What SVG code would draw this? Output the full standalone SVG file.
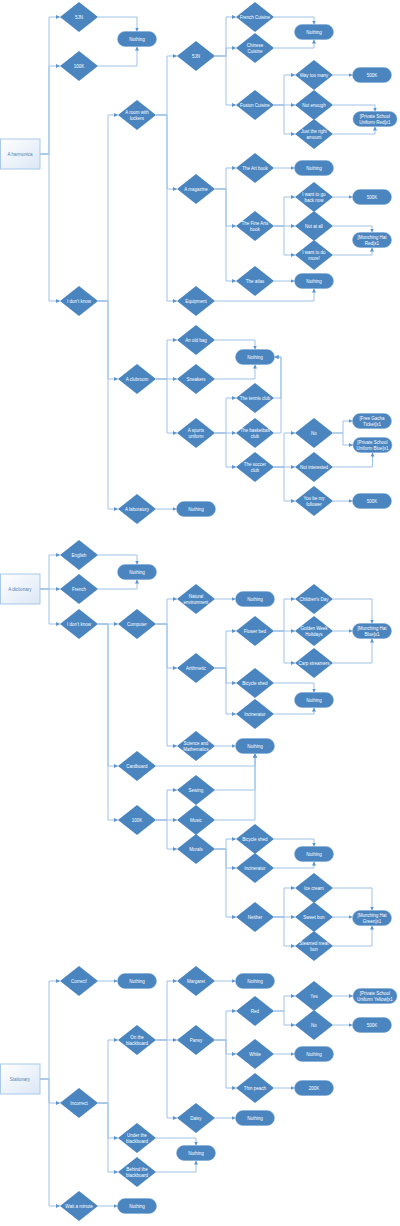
<svg xmlns="http://www.w3.org/2000/svg" width="400" height="1226" viewBox="0 0 400 1226">
<style>
.d{fill:#4a85bf}
.t{fill:#4a85bf;stroke:#7aa7d6;stroke-width:0.5}
.r{fill:url(#g);stroke:#a9c9ea;stroke-width:1}
text{font-family:"Liberation Sans",Arial,sans-serif;font-size:4.5px;fill:#fff;text-anchor:middle;dominant-baseline:central}
text.rt{fill:#4a7fb8}
.c path{fill:none;stroke:#9fc2e7;stroke-width:1;marker-end:url(#a)}
</style>
<defs>
<linearGradient id="g" x1="0" y1="0" x2="1" y2="1"><stop offset="0" stop-color="#ffffff"/><stop offset="1" stop-color="#dbe7f5"/></linearGradient>
<marker id="a" markerUnits="userSpaceOnUse" markerWidth="4" markerHeight="4" refX="4" refY="2" orient="auto"><path d="M0,0 L4,2 L0,4 z" fill="#5b95d0"/></marker>
</defs>
<g class="c" id="connectors">
<path d="M40 154 H49 V17 H60"/><path d="M40 154 H49 V66 H60"/><path d="M40 154 H49 V301 H60"/>
<path d="M98 17 H137 V31.5"/><path d="M98 66 H137 V46.5"/>
<path d="M98 301 H108 V115 H118"/><path d="M98 301 H108 V379 H118"/><path d="M98 301 H108 V509 H118"/>
<path d="M156 509 H176.5"/>
<path d="M156 115 H167 V56 H177"/><path d="M156 115 H167 V189 H177"/><path d="M156 115 H167 V301 H177"/>
<path d="M215 301 H314 V288.5"/>
<path d="M215 56 H226 V17 H236"/><path d="M215 56 H226 V48 H236"/><path d="M215 56 H226 V105 H236"/>
<path d="M274 17 H314 V24.5"/><path d="M274 48 H314 V39.5"/>
<path d="M274 105 H284 V75 H295"/><path d="M274 105 H295"/><path d="M274 105 H284 V134 H295"/>
<path d="M333 75 H352.5"/><path d="M333 105 H375 V111.5"/><path d="M333 134 H375 V126.5"/>
<path d="M215 189 H226 V168 H236"/><path d="M215 189 H226 V226 H236"/><path d="M215 189 H226 V281 H236"/>
<path d="M274 168 H294.5"/><path d="M274 281 H294.5"/>
<path d="M274 226 H284 V197 H295"/><path d="M274 226 H295"/><path d="M274 226 H284 V255 H295"/>
<path d="M333 197 H352.5"/><path d="M333 226 H372 V232.5"/><path d="M333 255 H372 V247.5"/>
<path d="M156 379 H167 V340 H177"/><path d="M156 379 H177"/><path d="M156 379 H167 V433 H177"/>
<path d="M215 340 H255 V349.5"/><path d="M215 379 H255 V364.5"/>
<path d="M215 433 H226 V398 H236"/><path d="M215 433 H236"/><path d="M215 433 H226 V467 H236"/>
<path d="M274 398 H281 V357 H274.5"/><path d="M274 433 H281 V357 H274.5"/>
<path d="M274 467 H284 V433 H295"/><path d="M274 467 H295"/><path d="M274 467 H284 V501 H295"/>
<path d="M333 433 H343 V421 H352.5"/><path d="M333 433 H343 V445 H353"/>
<path d="M333 467 H372.5 V452.5"/><path d="M333 501 H352.5"/>
<path d="M40 589 H49 V555 H60"/><path d="M40 589 H60"/><path d="M40 589 H49 V624 H60"/>
<path d="M98 555 H137 V564.5"/><path d="M98 589 H137 V579.5"/>
<path d="M98 624 H118"/><path d="M98 624 H108 V766 H118"/><path d="M98 624 H108 V820 H118"/>
<path d="M156 624 H167 V599 H177"/><path d="M156 624 H167 V668 H177"/><path d="M156 624 H167 V746 H177"/>
<path d="M215 599 H235.5"/><path d="M215 746 H235.5"/><path d="M156 766 H255 V753.5"/>
<path d="M215 668 H226 V631 H236"/><path d="M215 668 H226 V683 H236"/><path d="M215 668 H226 V714 H236"/>
<path d="M274 683 H314 V692.5"/><path d="M274 714 H314 V707.5"/>
<path d="M274 631 H284 V599 H295"/><path d="M274 631 H295"/><path d="M274 631 H284 V663 H295"/>
<path d="M333 599 H372 V623.5"/><path d="M333 631 H352.5"/><path d="M333 663 H372 V638.5"/>
<path d="M156 820 H167 V790 H177"/><path d="M156 820 H177"/><path d="M156 820 H167 V849 H177"/>
<path d="M215 790 H255 V753.5"/><path d="M215 820 H255 V753.5"/>
<path d="M215 849 H226 V839 H236"/><path d="M215 849 H226 V868 H236"/><path d="M215 849 H226 V917 H236"/>
<path d="M274 839 H314 V846.5"/><path d="M274 868 H314 V861.5"/>
<path d="M274 917 H284 V888 H295"/><path d="M274 917 H295"/><path d="M274 917 H284 V946 H295"/>
<path d="M333 888 H372 V910.5"/><path d="M333 917 H352.5"/><path d="M333 946 H372 V925.5"/>
<path d="M40 1079 H49 V981 H60"/><path d="M40 1079 H49 V1103 H60"/><path d="M40 1079 H49 V1206 H60"/>
<path d="M98 981 H117.5"/><path d="M98 1206 H117.5"/>
<path d="M98 1103 H108 V1040 H118"/><path d="M98 1103 H108 V1138 H118"/><path d="M98 1103 H108 V1172 H118"/>
<path d="M156 1138 H196 V1145.5"/><path d="M156 1172 H196 V1160.5"/>
<path d="M156 1040 H167 V981 H177"/><path d="M156 1040 H177"/><path d="M156 1040 H167 V1118 H177"/>
<path d="M215 981 H235.5"/><path d="M215 1118 H235.5"/>
<path d="M215 1040 H226 V1011 H236"/><path d="M215 1040 H226 V1054 H236"/><path d="M215 1040 H226 V1088 H236"/>
<path d="M274 1054 H294.5"/><path d="M274 1088 H294.5"/>
<path d="M274 1011 H284 V996 H295"/><path d="M274 1011 H284 V1025 H295"/>
<path d="M333 996 H353"/><path d="M333 1025 H352.5"/>
</g>
<g id="r1"><rect class="r" x="0.5" y="139" width="39.5" height="30"/><text class="rt" x="20" y="154">A harmonica</text></g>
<g id="d_5jn1"><polygon class="d" points="60,17 79,2 98,17 79,32"/><text x="79" y="17">5JN</text></g>
<g id="d_100k1"><polygon class="d" points="60,66 79,51 98,66 79,81"/><text x="79" y="66">100K</text></g>
<g id="d_idk1"><polygon class="d" points="60,301 79,286 98,301 79,316"/><text x="79" y="301">I don't know</text></g>
<g id="t_n1"><rect class="t" x="117.5" y="31.5" width="39" height="15" rx="7.5"/><text x="137" y="39">Nothing</text></g>
<g id="d_lockers"><polygon class="d" points="118,115 137,100 156,115 137,130"/><text><tspan x="137" y="112.3">A room with</tspan><tspan x="137" y="117.7">lockers</tspan></text></g>
<g id="d_club"><polygon class="d" points="118,379 137,364 156,379 137,394"/><text x="137" y="379">A clubroom</text></g>
<g id="d_lab"><polygon class="d" points="118,509 137,494 156,509 137,524"/><text x="137" y="509">A laboratory</text></g>
<g id="t_n2"><rect class="t" x="176.5" y="501.5" width="39" height="15" rx="7.5"/><text x="196" y="509">Nothing</text></g>
<g id="d_5jn2"><polygon class="d" points="177,56 196,41 215,56 196,71"/><text x="196" y="56">5JN</text></g>
<g id="d_mag"><polygon class="d" points="177,189 196,174 215,189 196,204"/><text x="196" y="189">A magazine</text></g>
<g id="d_equip"><polygon class="d" points="177,301 196,286 215,301 196,316"/><text x="196" y="301">Equipment</text></g>
<g id="t_n3"><rect class="t" x="294.5" y="273.5" width="39" height="15" rx="7.5"/><text x="314" y="281">Nothing</text></g>
<g id="d_french"><polygon class="d" points="236,17 255,2 274,17 255,32"/><text x="255" y="17">French Cuisine</text></g>
<g id="d_chinese"><polygon class="d" points="236,48 255,33 274,48 255,63"/><text><tspan x="255" y="45.3">Chinese</tspan><tspan x="255" y="50.7">Cuisine</tspan></text></g>
<g id="d_fusion"><polygon class="d" points="236,105 255,90 274,105 255,120"/><text x="255" y="105">Fusion Cuisine</text></g>
<g id="t_n4"><rect class="t" x="294.5" y="24.5" width="39" height="15" rx="7.5"/><text x="314" y="32">Nothing</text></g>
<g id="d_way"><polygon class="d" points="295,75 314,60 333,75 314,90"/><text x="314" y="75">Way too many</text></g>
<g id="d_notenough"><polygon class="d" points="295,105 314,90 333,105 314,120"/><text x="314" y="105">Not enough</text></g>
<g id="d_just"><polygon class="d" points="295,134 314,119 333,134 314,149"/><text><tspan x="314" y="131.3">Just the right</tspan><tspan x="314" y="136.7">amount</tspan></text></g>
<g id="t_500k1"><rect class="t" x="352.5" y="67.5" width="39" height="15" rx="7.5"/><text x="372" y="75">500K</text></g>
<g id="t_psured"><rect class="t" x="353" y="111.5" width="44" height="15" rx="7.5"/><text><tspan x="375" y="116.3">[Private School</tspan><tspan x="375" y="121.7">Uniform Red]x1</tspan></text></g>
<g id="d_art"><polygon class="d" points="236,168 255,153 274,168 255,183"/><text x="255" y="168">The Art book</text></g>
<g id="d_fine"><polygon class="d" points="236,226 255,211 274,226 255,241"/><text><tspan x="255" y="223.3">The Fine Arts</tspan><tspan x="255" y="228.7">book</tspan></text></g>
<g id="d_atlas"><polygon class="d" points="236,281 255,266 274,281 255,296"/><text x="255" y="281">The atlas</text></g>
<g id="t_n5"><rect class="t" x="294.5" y="160.5" width="39" height="15" rx="7.5"/><text x="314" y="168">Nothing</text></g>
<g id="d_goback"><polygon class="d" points="295,197 314,182 333,197 314,212"/><text><tspan x="314" y="194.3">I want to go</tspan><tspan x="314" y="199.7">back now</tspan></text></g>
<g id="d_notatall"><polygon class="d" points="295,226 314,211 333,226 314,241"/><text x="314" y="226">Not at all</text></g>
<g id="d_domore"><polygon class="d" points="295,255 314,240 333,255 314,270"/><text><tspan x="314" y="252.3">I want to do</tspan><tspan x="314" y="257.7">more!</tspan></text></g>
<g id="t_500k2"><rect class="t" x="352.5" y="189.5" width="39" height="15" rx="7.5"/><text x="372" y="197">500K</text></g>
<g id="t_mhred"><rect class="t" x="352.5" y="232.5" width="39" height="15" rx="7.5"/><text><tspan x="372" y="237.3">[Munching Hat</tspan><tspan x="372" y="242.7">Red]x1</tspan></text></g>
<g id="d_oldbag"><polygon class="d" points="177,340 196,325 215,340 196,355"/><text x="196" y="340">An old bag</text></g>
<g id="d_sneakers"><polygon class="d" points="177,379 196,364 215,379 196,394"/><text x="196" y="379">Sneakers</text></g>
<g id="d_sports"><polygon class="d" points="177,433 196,418 215,433 196,448"/><text><tspan x="196" y="430.3">A sports</tspan><tspan x="196" y="435.7">uniform</tspan></text></g>
<g id="t_n6"><rect class="t" x="235.5" y="349.5" width="39" height="15" rx="7.5"/><text x="255" y="357">Nothing</text></g>
<g id="d_tennis"><polygon class="d" points="236,398 255,383 274,398 255,413"/><text x="255" y="398">The tennis club</text></g>
<g id="d_basket"><polygon class="d" points="236,433 255,418 274,433 255,448"/><text><tspan x="255" y="430.3">The basketball</tspan><tspan x="255" y="435.7">club</tspan></text></g>
<g id="d_soccer"><polygon class="d" points="236,467 255,452 274,467 255,482"/><text><tspan x="255" y="464.3">The soccer</tspan><tspan x="255" y="469.7">club</tspan></text></g>
<g id="d_no1"><polygon class="d" points="295,433 314,418 333,433 314,448"/><text x="314" y="433">No</text></g>
<g id="d_notint"><polygon class="d" points="295,467 314,452 333,467 314,482"/><text x="314" y="467">Not interested</text></g>
<g id="d_follower"><polygon class="d" points="295,501 314,486 333,501 314,516"/><text><tspan x="314" y="498.3">You be my</tspan><tspan x="314" y="503.7">follower</tspan></text></g>
<g id="t_gacha"><rect class="t" x="352.5" y="413.5" width="39" height="15" rx="7.5"/><text><tspan x="372" y="418.3">[Free Gacha</tspan><tspan x="372" y="423.7">Ticket]x1</tspan></text></g>
<g id="t_psublue"><rect class="t" x="353" y="437.5" width="39" height="15" rx="7.5"/><text><tspan x="372.5" y="442.3">[Private School</tspan><tspan x="372.5" y="447.7">Uniform Blue]x1</tspan></text></g>
<g id="t_500k3"><rect class="t" x="352.5" y="493.5" width="39" height="15" rx="7.5"/><text x="372" y="501">500K</text></g>
<g id="r2"><rect class="r" x="0.5" y="574" width="39.5" height="30"/><text class="rt" x="20" y="589">A dictionary</text></g>
<g id="d_english"><polygon class="d" points="60,555 79,540 98,555 79,570"/><text x="79" y="555">English</text></g>
<g id="d_french2"><polygon class="d" points="60,589 79,574 98,589 79,604"/><text x="79" y="589">French</text></g>
<g id="d_idk2"><polygon class="d" points="60,624 79,609 98,624 79,639"/><text x="79" y="624">I don't know</text></g>
<g id="t_n7"><rect class="t" x="117.5" y="564.5" width="39" height="15" rx="7.5"/><text x="137" y="572">Nothing</text></g>
<g id="d_computer"><polygon class="d" points="118,624 137,609 156,624 137,639"/><text x="137" y="624">Computer</text></g>
<g id="d_cardboard"><polygon class="d" points="118,766 137,751 156,766 137,781"/><text x="137" y="766">Cardboard</text></g>
<g id="d_100k2"><polygon class="d" points="118,820 137,805 156,820 137,835"/><text x="137" y="820">100K</text></g>
<g id="d_natural"><polygon class="d" points="177,599 196,584 215,599 196,614"/><text><tspan x="196" y="596.3">Natural</tspan><tspan x="196" y="601.7">environment</tspan></text></g>
<g id="d_arith"><polygon class="d" points="177,668 196,653 215,668 196,683"/><text x="196" y="668">Arithmetic</text></g>
<g id="d_scimath"><polygon class="d" points="177,746 196,731 215,746 196,761"/><text><tspan x="196" y="743.3">Science and</tspan><tspan x="196" y="748.7">Mathematics</tspan></text></g>
<g id="t_n8"><rect class="t" x="235.5" y="591.5" width="39" height="15" rx="7.5"/><text x="255" y="599">Nothing</text></g>
<g id="t_n9"><rect class="t" x="235.5" y="738.5" width="39" height="15" rx="7.5"/><text x="255" y="746">Nothing</text></g>
<g id="d_flower"><polygon class="d" points="236,631 255,616 274,631 255,646"/><text x="255" y="631">Flower bed</text></g>
<g id="d_bike1"><polygon class="d" points="236,683 255,668 274,683 255,698"/><text x="255" y="683">Bicycle shed</text></g>
<g id="d_incin1"><polygon class="d" points="236,714 255,699 274,714 255,729"/><text x="255" y="714">Incinerator</text></g>
<g id="t_n10"><rect class="t" x="294.5" y="692.5" width="39" height="15" rx="7.5"/><text x="314" y="700">Nothing</text></g>
<g id="d_children"><polygon class="d" points="295,599 314,584 333,599 314,614"/><text x="314" y="599">Children's Day</text></g>
<g id="d_golden"><polygon class="d" points="295,631 314,616 333,631 314,646"/><text><tspan x="314" y="628.3">Golden Week</tspan><tspan x="314" y="633.7">Holidays</tspan></text></g>
<g id="d_carp"><polygon class="d" points="295,663 314,648 333,663 314,678"/><text x="314" y="663">Carp streamers</text></g>
<g id="t_mhblue"><rect class="t" x="352.5" y="623.5" width="39" height="15" rx="7.5"/><text><tspan x="372" y="628.3">[Munching Hat</tspan><tspan x="372" y="633.7">Blue]x1</tspan></text></g>
<g id="d_sewing"><polygon class="d" points="177,790 196,775 215,790 196,805"/><text x="196" y="790">Sewing</text></g>
<g id="d_music"><polygon class="d" points="177,820 196,805 215,820 196,835"/><text x="196" y="820">Music</text></g>
<g id="d_morals"><polygon class="d" points="177,849 196,834 215,849 196,864"/><text x="196" y="849">Morals</text></g>
<g id="d_bike2"><polygon class="d" points="236,839 255,824 274,839 255,854"/><text x="255" y="839">Bicycle shed</text></g>
<g id="d_incin2"><polygon class="d" points="236,868 255,853 274,868 255,883"/><text x="255" y="868">Incinerator</text></g>
<g id="d_neither"><polygon class="d" points="236,917 255,902 274,917 255,932"/><text x="255" y="917">Neither</text></g>
<g id="t_n11"><rect class="t" x="294.5" y="846.5" width="39" height="15" rx="7.5"/><text x="314" y="854">Nothing</text></g>
<g id="d_ice"><polygon class="d" points="295,888 314,873 333,888 314,903"/><text x="314" y="888">Ice cream</text></g>
<g id="d_sweet"><polygon class="d" points="295,917 314,902 333,917 314,932"/><text x="314" y="917">Sweet bun</text></g>
<g id="d_steamed"><polygon class="d" points="295,946 314,931 333,946 314,961"/><text><tspan x="314" y="943.3">Steamed meat</tspan><tspan x="314" y="948.7">bun</tspan></text></g>
<g id="t_mhgreen"><rect class="t" x="352.5" y="910.5" width="39" height="15" rx="7.5"/><text><tspan x="372" y="915.3">[Munching Hat</tspan><tspan x="372" y="920.7">Green]x1</tspan></text></g>
<g id="r3"><rect class="r" x="0.5" y="1064" width="39.5" height="30"/><text class="rt" x="20" y="1079">Stationary</text></g>
<g id="d_correct"><polygon class="d" points="60,981 79,966 98,981 79,996"/><text x="79" y="981">Correct!</text></g>
<g id="d_incorrect"><polygon class="d" points="60,1103 79,1088 98,1103 79,1118"/><text x="79" y="1103">Incorrect</text></g>
<g id="d_wait"><polygon class="d" points="60,1206 79,1191 98,1206 79,1221"/><text x="79" y="1206">Wait a minute</text></g>
<g id="t_n12"><rect class="t" x="117.5" y="973.5" width="39" height="15" rx="7.5"/><text x="137" y="981">Nothing</text></g>
<g id="t_n13"><rect class="t" x="117.5" y="1198.5" width="39" height="15" rx="7.5"/><text x="137" y="1206">Nothing</text></g>
<g id="d_onbb"><polygon class="d" points="118,1040 137,1025 156,1040 137,1055"/><text><tspan x="137" y="1037.3">On the</tspan><tspan x="137" y="1042.7">blackboard</tspan></text></g>
<g id="d_underbb"><polygon class="d" points="118,1138 137,1123 156,1138 137,1153"/><text><tspan x="137" y="1135.3">Under the</tspan><tspan x="137" y="1140.7">blackboard</tspan></text></g>
<g id="d_behindbb"><polygon class="d" points="118,1172 137,1157 156,1172 137,1187"/><text><tspan x="137" y="1169.3">Behind the</tspan><tspan x="137" y="1174.7">blackboard</tspan></text></g>
<g id="t_n14"><rect class="t" x="176.5" y="1145.5" width="39" height="15" rx="7.5"/><text x="196" y="1153">Nothing</text></g>
<g id="d_margaret"><polygon class="d" points="177,981 196,966 215,981 196,996"/><text x="196" y="981">Margaret</text></g>
<g id="d_pansy"><polygon class="d" points="177,1040 196,1025 215,1040 196,1055"/><text x="196" y="1040">Pansy</text></g>
<g id="d_daisy"><polygon class="d" points="177,1118 196,1103 215,1118 196,1133"/><text x="196" y="1118">Daisy</text></g>
<g id="t_n15"><rect class="t" x="235.5" y="973.5" width="39" height="15" rx="7.5"/><text x="255" y="981">Nothing</text></g>
<g id="t_n16"><rect class="t" x="235.5" y="1110.5" width="39" height="15" rx="7.5"/><text x="255" y="1118">Nothing</text></g>
<g id="d_red"><polygon class="d" points="236,1011 255,996 274,1011 255,1026"/><text x="255" y="1011">Red</text></g>
<g id="d_white"><polygon class="d" points="236,1054 255,1039 274,1054 255,1069"/><text x="255" y="1054">White</text></g>
<g id="d_thin"><polygon class="d" points="236,1088 255,1073 274,1088 255,1103"/><text x="255" y="1088">Thin peach</text></g>
<g id="t_n17"><rect class="t" x="294.5" y="1046.5" width="39" height="15" rx="7.5"/><text x="314" y="1054">Nothing</text></g>
<g id="t_200k"><rect class="t" x="294.5" y="1080.5" width="39" height="15" rx="7.5"/><text x="314" y="1088">200K</text></g>
<g id="d_yes"><polygon class="d" points="295,996 314,981 333,996 314,1011"/><text x="314" y="996">Yes</text></g>
<g id="d_no2"><polygon class="d" points="295,1025 314,1010 333,1025 314,1040"/><text x="314" y="1025">No</text></g>
<g id="t_psuyellow"><rect class="t" x="353" y="988.5" width="44" height="15" rx="7.5"/><text><tspan x="375" y="993.3">[Private School</tspan><tspan x="375" y="998.7">Uniform Yellow]x1</tspan></text></g>
<g id="t_500k4"><rect class="t" x="352.5" y="1017.5" width="39" height="15" rx="7.5"/><text x="372" y="1025">500K</text></g>
</svg>
